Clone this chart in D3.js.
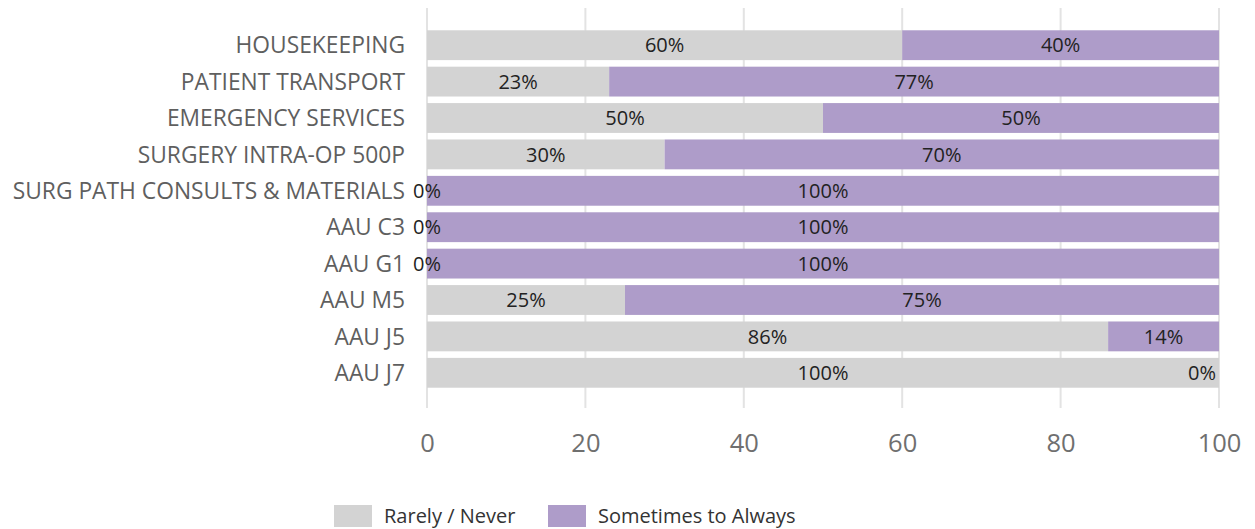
<!DOCTYPE html>
<html lang="en">
<head>
    <meta charset="UTF-8">
    <title>Stacked bars</title>
    <script src="https://d3js.org/d3.v7.min.js"></script>
    <style>
        body { margin: 0; background: #fff; }
        text { font-family: "Open Sans", "Noto Sans", sans-serif; }
    </style>
</head>
<body>
<svg></svg>
<script>
    var categories = ["HOUSEKEEPING", "PATIENT TRANSPORT", "EMERGENCY SERVICES", "SURGERY INTRA-OP 500P",
        "SURG PATH CONSULTS & MATERIALS", "AAU C3", "AAU G1", "AAU M5", "AAU J5", "AAU J7"];
    var rarely = [60, 23, 50, 30, 0, 0, 0, 25, 86, 100];
    var sometimes = [40, 77, 50, 70, 100, 100, 100, 75, 14, 0];
    var seriesNames = ["Rarely / Never", "Sometimes to Always"];
    var seriesColors = ["#d3d3d3", "#ae9cc9"];
    var xTicks = [0, 20, 40, 60, 80, 100];

    var width = 1255, height = 529;
    var svg = d3.select("svg").attr("width", width).attr("height", height);

    var plotLeft = 427, plotRight = 1219, plotTop = 27, plotBottom = 391;

    var x = d3.scaleLinear().domain([0, 100]).range([plotLeft, plotRight]);
    var y = d3.scaleBand().domain(categories).range([plotTop, plotBottom]).paddingInner(0.18).paddingOuter(0.09);

    // gridlines
    svg.append("g").selectAll("line")
        .data(xTicks)
        .enter().append("line")
        .attr("x1", function (d) { return x(d); })
        .attr("x2", function (d) { return x(d); })
        .attr("y1", 8).attr("y2", 408)
        .attr("stroke", "#e3e3e3").attr("stroke-width", 2);

    var rows = categories.map(function (c, i) {
        return {cat: c, segs: [
            {v: rarely[i], x0: 0, x1: rarely[i], s: 0, cat: c},
            {v: sometimes[i], x0: rarely[i], x1: rarely[i] + sometimes[i], s: 1, cat: c}
        ]};
    });

    var row = svg.append("g").selectAll("g")
        .data(rows)
        .enter().append("g");

    row.selectAll("rect")
        .data(function (d) { return d.segs; })
        .enter().append("rect")
        .attr("x", function (d) { return x(d.x0); })
        .attr("y", function (d) { return y(d.cat); })
        .attr("width", function (d) { return x(d.x1) - x(d.x0); })
        .attr("height", y.bandwidth())
        .attr("fill", function (d) { return seriesColors[d.s]; });

    row.selectAll("text.val")
        .data(function (d) { return d.segs; })
        .enter().append("text")
        .attr("class", "val")
        .attr("x", function (d) {
            if (d.v === 0 && d.x0 >= 100) return x(100) - 3;
            return x((d.x0 + d.x1) / 2);
        })
        .attr("y", function (d) { return y(d.cat) + y.bandwidth() / 2; })
        .attr("dy", "0.36em")
        .attr("text-anchor", function (d) { return (d.v === 0 && d.x0 >= 100) ? "end" : "middle"; })
        .attr("font-size", 20)
        .attr("fill", "#222")
        .text(function (d) { return d.v + "%"; });

    // category labels
    svg.append("g").selectAll("text")
        .data(categories)
        .enter().append("text")
        .attr("x", 405)
        .attr("y", function (d) { return y(d) + y.bandwidth() / 2; })
        .attr("dy", "0.36em")
        .attr("text-anchor", "end")
        .attr("font-size", 22.8)
        .attr("fill", "#5f5f5f")
        .text(function (d) { return d; });

    // x axis labels
    var xAxis = d3.axisBottom(x).tickValues(xTicks).tickSize(0).tickPadding(0);
    var gx = svg.append("g").attr("transform", "translate(0,434)").call(xAxis);
    gx.select(".domain").remove();
    gx.selectAll("text").attr("font-size", 25.5).attr("fill", "#6f6f6f")
        .attr("font-family", "'Open Sans', sans-serif");

    // legend
    var legend = svg.append("g").attr("transform", "translate(334,505)");
    var lx = [0, 214];
    seriesNames.forEach(function (n, i) {
        legend.append("rect").attr("x", lx[i]).attr("y", 0).attr("width", 38).attr("height", 22)
            .attr("fill", seriesColors[i]);
        legend.append("text").attr("x", lx[i] + 50).attr("y", 11).attr("dy", "0.36em")
            .attr("font-size", 20).attr("fill", "#333").text(n);
    });
</script>
</body>
</html>
